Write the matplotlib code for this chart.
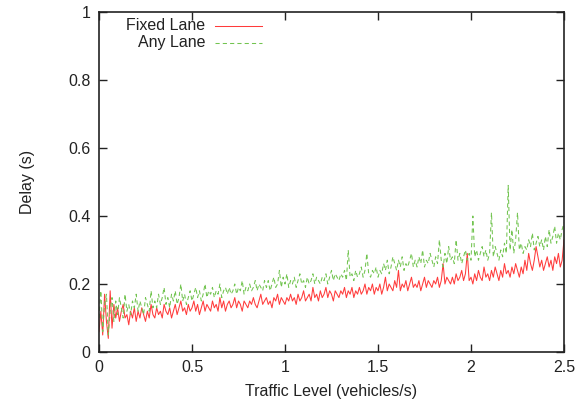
import numpy as np
import matplotlib
matplotlib.use("Agg")
import matplotlib.pyplot as plt
from matplotlib.lines import Line2D

plt.rcParams['font.family'] = ['Liberation Sans', 'DejaVu Sans']

traffic = np.linspace(0.0, 2.5, 251)

fixed_lane = [
    0.06, 0.12, 0.05, 0.17, 0.09, 0.04, 0.18, 0.07, 0.14, 0.10,
    0.13, 0.09, 0.12, 0.14, 0.10, 0.11, 0.08, 0.12, 0.10, 0.13,
    0.09, 0.12, 0.10, 0.13, 0.11, 0.09, 0.12, 0.10, 0.14, 0.11,
    0.10, 0.13, 0.11, 0.12, 0.10, 0.14, 0.12, 0.11, 0.13, 0.10,
    0.12, 0.14, 0.11, 0.13, 0.15, 0.12, 0.13, 0.11, 0.14, 0.12,
    0.13, 0.15, 0.12, 0.14, 0.11, 0.13, 0.15, 0.12, 0.14, 0.13,
    0.12, 0.15, 0.13, 0.14, 0.12, 0.16, 0.13, 0.15, 0.12, 0.14,
    0.15, 0.13, 0.14, 0.16, 0.13, 0.15, 0.14, 0.12, 0.15, 0.14,
    0.13, 0.15, 0.14, 0.16, 0.14, 0.13, 0.15, 0.17, 0.14, 0.15,
    0.16, 0.14, 0.15, 0.13, 0.16, 0.15, 0.17, 0.14, 0.16, 0.15,
    0.14, 0.16, 0.15, 0.17, 0.15, 0.16, 0.14, 0.17, 0.15, 0.16,
    0.18, 0.15, 0.16, 0.17, 0.15, 0.19, 0.16, 0.17, 0.15, 0.18,
    0.16, 0.17, 0.19, 0.16, 0.18, 0.17, 0.15, 0.18, 0.17, 0.16,
    0.18, 0.17, 0.19, 0.16, 0.18, 0.17, 0.19, 0.16, 0.18, 0.17,
    0.19, 0.17, 0.18, 0.20, 0.17, 0.19, 0.18, 0.20, 0.17, 0.19,
    0.18, 0.20, 0.17, 0.19, 0.22, 0.18, 0.20, 0.19, 0.18, 0.21,
    0.19, 0.24, 0.18, 0.20, 0.19, 0.21, 0.18, 0.20, 0.22, 0.19,
    0.20, 0.19, 0.21, 0.18, 0.20, 0.22, 0.19, 0.21, 0.20, 0.19,
    0.21, 0.20, 0.22, 0.19, 0.21, 0.26, 0.20, 0.22, 0.21, 0.20,
    0.22, 0.20, 0.23, 0.21, 0.22, 0.24, 0.21, 0.23, 0.29, 0.21,
    0.22, 0.20, 0.23, 0.21, 0.24, 0.22, 0.21, 0.25, 0.22, 0.23,
    0.21, 0.24, 0.22, 0.25, 0.23, 0.21, 0.24, 0.22, 0.26, 0.23,
    0.24, 0.22, 0.25, 0.23, 0.26, 0.24, 0.22, 0.25, 0.23, 0.27,
    0.24, 0.29, 0.26, 0.24, 0.27, 0.31, 0.28, 0.25, 0.27, 0.24,
    0.26, 0.28, 0.25, 0.27, 0.24, 0.28, 0.26, 0.29, 0.25, 0.27,
    0.33,
]

any_lane = [
    0.10, 0.18, 0.06, 0.14, 0.17, 0.05, 0.12, 0.16, 0.09, 0.15,
    0.11, 0.16, 0.13, 0.10, 0.17, 0.12, 0.14, 0.11, 0.15, 0.13,
    0.17, 0.12, 0.15, 0.13, 0.11, 0.16, 0.14, 0.12, 0.18, 0.13,
    0.15, 0.13, 0.17, 0.14, 0.16, 0.19, 0.14, 0.16, 0.13, 0.17,
    0.15, 0.18, 0.14, 0.16, 0.20, 0.15, 0.17, 0.14, 0.16, 0.18,
    0.15, 0.17, 0.19, 0.16, 0.18, 0.15, 0.17, 0.20, 0.16, 0.18,
    0.17, 0.19, 0.16, 0.18, 0.17, 0.20, 0.16, 0.18, 0.19, 0.17,
    0.19, 0.17, 0.18, 0.20, 0.17, 0.19, 0.18, 0.21, 0.17, 0.19,
    0.18, 0.20, 0.18, 0.19, 0.21, 0.18, 0.20, 0.19, 0.18, 0.21,
    0.19, 0.21, 0.18, 0.20, 0.22, 0.19, 0.20, 0.24, 0.19, 0.22,
    0.20, 0.23, 0.19, 0.21, 0.20, 0.22, 0.19, 0.21, 0.23, 0.20,
    0.21, 0.19, 0.22, 0.20, 0.21, 0.23, 0.20, 0.22, 0.21, 0.20,
    0.22, 0.21, 0.23, 0.20, 0.22, 0.24, 0.21, 0.23, 0.22, 0.21,
    0.23, 0.22, 0.24, 0.21, 0.30, 0.22, 0.23, 0.21, 0.24, 0.22,
    0.23, 0.25, 0.22, 0.24, 0.29, 0.23, 0.22, 0.24, 0.23, 0.25,
    0.22, 0.24, 0.23, 0.26, 0.24, 0.27, 0.23, 0.25, 0.28, 0.26,
    0.24, 0.27, 0.25, 0.28, 0.24, 0.26, 0.25, 0.27, 0.29, 0.25,
    0.27, 0.25, 0.28, 0.26, 0.30, 0.25, 0.27, 0.26, 0.29, 0.27,
    0.25, 0.28, 0.26, 0.33, 0.27, 0.25, 0.29, 0.26, 0.31, 0.27,
    0.28, 0.26, 0.33, 0.27, 0.29, 0.26, 0.28, 0.30, 0.27, 0.29,
    0.27, 0.40, 0.28, 0.30, 0.27, 0.29, 0.31, 0.28, 0.30, 0.27,
    0.29, 0.41, 0.28, 0.31, 0.29, 0.27, 0.30, 0.28, 0.32, 0.29,
    0.49, 0.30, 0.36, 0.29, 0.33, 0.41, 0.30, 0.32, 0.29, 0.31,
    0.30, 0.33, 0.31, 0.35, 0.30, 0.32, 0.34, 0.31, 0.33, 0.30,
    0.34, 0.31, 0.36, 0.32, 0.34, 0.37, 0.32, 0.35, 0.33, 0.36,
    0.38,
]

x_ticks = [0, 0.5, 1, 1.5, 2, 2.5]
x_tick_labels = ["0", "0.5", "1", "1.5", "2", "2.5"]
y_ticks = [0, 0.2, 0.4, 0.6, 0.8, 1]
y_tick_labels = ["0", "0.2", "0.4", "0.6", "0.8", "1"]

red = "#ff3b3b"
green = "#72c450"
text_col = '#222222'
fs = 11.5

fig = plt.figure(figsize=(5.84, 4.05), dpi=100)
ax = fig.add_axes([99 / 584, 1 - 352 / 405, 465 / 584, 340 / 405])

ax.plot(traffic, fixed_lane, color=red, lw=0.75)
ax.plot(traffic, any_lane, color=green, lw=0.75, ls=(0, (4, 3)))

ax.set_xlim(0, 2.5)
ax.set_ylim(0, 1)
ax.set_xticks(x_ticks)
ax.set_xticklabels(x_tick_labels)
ax.set_yticks(y_ticks)
ax.set_yticklabels(y_tick_labels)
ax.tick_params(direction='in', length=6, width=1.0, top=True, right=True,
               labelsize=fs, colors=text_col, pad=6)
for s in ax.spines.values():
    s.set_linewidth(1.2)
    s.set_color(text_col)

ax.set_xlabel("Traffic Level (vehicles/s)", fontsize=fs, color=text_col, labelpad=6)
ax.set_ylabel("Delay (s)", fontsize=fs, color=text_col, labelpad=24)

# key (gnuplot style: text right-aligned, sample to the right)
ax.text(0.228, 0.959, "Fixed Lane", transform=ax.transAxes, ha='right',
        va='center', fontsize=fs, color=text_col)
ax.text(0.228, 0.909, "Any Lane", transform=ax.transAxes, ha='right',
        va='center', fontsize=fs, color=text_col)
ax.add_line(Line2D([0.249, 0.351], [0.959, 0.959], transform=ax.transAxes,
                   color=red, lw=0.75))
ax.add_line(Line2D([0.249, 0.351], [0.909, 0.909], transform=ax.transAxes,
                   color=green, lw=0.75, ls=(0, (4, 3))))

fig.savefig("out.png", dpi=100)
